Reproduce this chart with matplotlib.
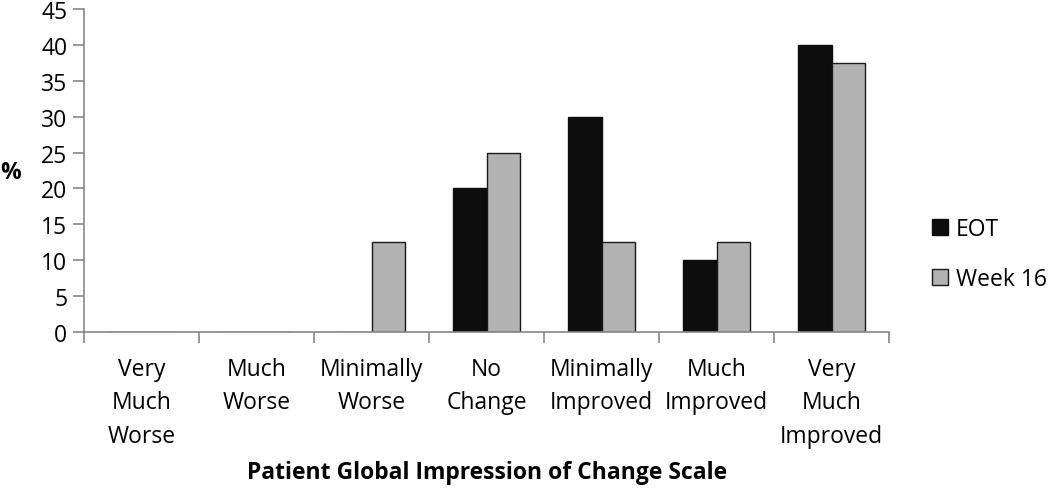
import matplotlib.pyplot as plt
import numpy as np

categories = ['Very\nMuch\nWorse', 'Much\nWorse', 'Minimally\nWorse', 'No\nChange',
              'Minimally\nImproved', 'Much\nImproved', 'Very\nMuch\nImproved']
eot = [0, 0, 0, 20, 30, 10, 40]
week16 = [0, 0, 12.5, 25, 12.5, 12.5, 37.5]
yticks = [0, 5, 10, 15, 20, 25, 30, 35, 40, 45]

plt.rcParams['font.family'] = ['Open Sans', 'DejaVu Sans']
fs = 16.5

fig = plt.figure(figsize=(10.5, 4.89), dpi=100)
ax = fig.add_axes([84/1050, 1 - 333/489, 805/1050, 323/489])

x = np.arange(len(categories))
w = 0.29
ax.bar(x - w/2, eot, w, color='#0d0d0d', edgecolor='#0d0d0d', linewidth=1.0, label='EOT')
ax.bar(x + w/2, week16, w, color='#b2b2b2', edgecolor='#1a1a1a', linewidth=1.0, label='Week 16')

ax.set_xlim(-0.5, len(categories) - 0.5)
ax.set_ylim(0, 45)
ax.set_yticks(yticks)
ax.tick_params(axis='y', labelsize=fs, length=8, color='#868686', width=1.2, pad=4)

ax.set_xticks(np.arange(-0.5, len(categories)), minor=False)
ax.set_xticklabels([])
ax.set_xticks(x, minor=True)
ax.set_xticklabels(categories, minor=True, fontsize=fs, linespacing=1.52)
ax.tick_params(axis='x', which='minor', length=0, pad=18)
ax.tick_params(axis='x', which='major', length=8, color='#868686', width=1.2)

for s in ['top', 'right']:
    ax.spines[s].set_visible(False)
for s in ['left', 'bottom']:
    ax.spines[s].set_color('#868686')
    ax.spines[s].set_linewidth(1.2)

fig.text(0, 1 - 173/489, '%', fontsize=fs, fontweight='bold', ha='left', va='center')
fig.text(487/1050, 1 - 473/489, 'Patient Global Impression of Change Scale', fontsize=fs,
         fontweight='bold', ha='center', va='center')

ax.legend(loc='center left', bbox_to_anchor=(932/1050, 1 - 255/489), bbox_transform=fig.transFigure,
          frameon=False, fontsize=fs, handlelength=0.7, handleheight=0.7, handletextpad=0.35,
          labelspacing=1.1, borderaxespad=0, borderpad=0)

plt.savefig('out.png', dpi=100)
